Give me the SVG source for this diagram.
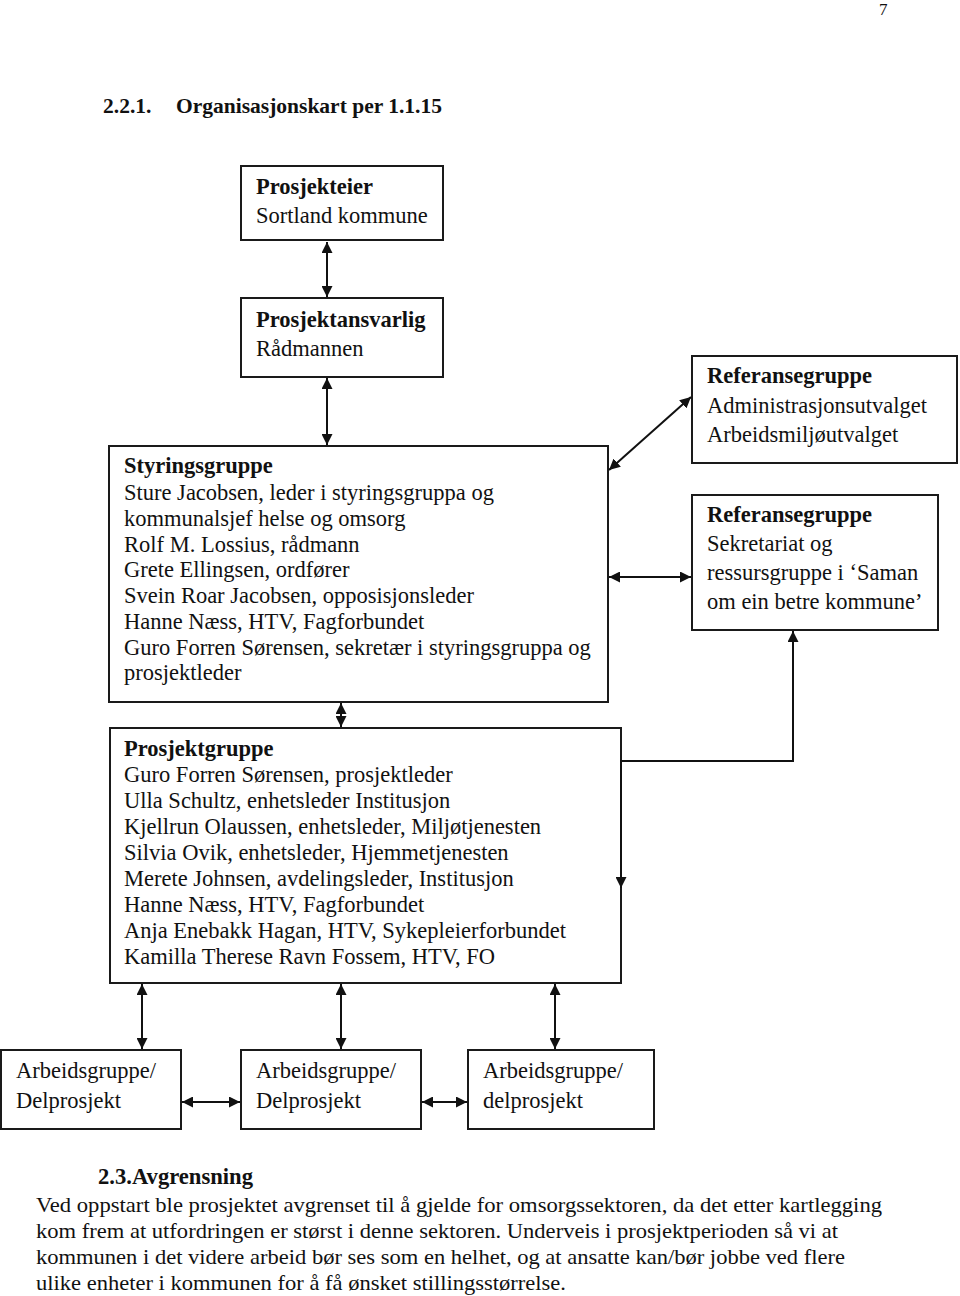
<svg xmlns="http://www.w3.org/2000/svg" width="960" height="1296" viewBox="0 0 960 1296">
<style>
.t{font-family:"Liberation Serif","Times New Roman",serif;font-size:22.5px;fill:#111}
.b{font-weight:bold}
.box{fill:#fff;stroke:#1a1a1a;stroke-width:2}
.c{fill:none;stroke:#111;stroke-width:2}
</style>
<defs>
<marker id="ah" viewBox="0 0 10 10" refX="10" refY="5" markerWidth="11" markerHeight="11" markerUnits="userSpaceOnUse" orient="auto-start-reverse">
<path d="M0,0 L10,5 L0,10 z" fill="#111"/>
</marker>
</defs>
<rect width="960" height="1296" fill="#fff"/>
<text class="t" x="879" y="15" style="font-size:17px">7</text>
<text class="t b" x="103" y="113" style="font-size:21.5px">2.2.1.</text>
<text class="t b" x="176" y="113" style="font-size:21.5px">Organisasjonskart per 1.1.15</text>

<g id="prosjekteier">
<rect class="box" x="241" y="166" width="202" height="74"/>
<text class="t b" x="256" y="194">Prosjekteier</text>
<text class="t" x="256" y="223">Sortland kommune</text>
</g>
<g id="prosjektansvarlig">
<rect class="box" x="241" y="298" width="202" height="79"/>
<text class="t b" x="256" y="327">Prosjektansvarlig</text>
<text class="t" x="256" y="356">Rådmannen</text>
</g>
<g id="styringsgruppe">
<rect class="box" x="109" y="446" width="499" height="256"/>
<text class="t b" x="124" y="473">Styringsgruppe</text>
<text class="t" x="124" y="500">Sture Jacobsen, leder i styringsgruppa og</text>
<text class="t" x="124" y="526">kommunalsjef helse og omsorg</text>
<text class="t" x="124" y="552">Rolf M. Lossius, rådmann</text>
<text class="t" x="124" y="577">Grete Ellingsen, ordfører</text>
<text class="t" x="124" y="603">Svein Roar Jacobsen, opposisjonsleder</text>
<text class="t" x="124" y="629">Hanne Næss, HTV, Fagforbundet</text>
<text class="t" x="124" y="655">Guro Forren Sørensen, sekretær i styringsgruppa og</text>
<text class="t" x="124" y="680">prosjektleder</text>
</g>
<g id="referansegruppe1">
<rect class="box" x="692" y="356" width="265" height="107"/>
<text class="t b" x="707" y="383">Referansegruppe</text>
<text class="t" x="707" y="413">Administrasjonsutvalget</text>
<text class="t" x="707" y="442">Arbeidsmiljøutvalget</text>
</g>
<g id="referansegruppe2">
<rect class="box" x="692" y="495" width="246" height="135"/>
<text class="t b" x="707" y="522">Referansegruppe</text>
<text class="t" x="707" y="551">Sekretariat og</text>
<text class="t" x="707" y="580">ressursgruppe i ‘Saman</text>
<text class="t" x="707" y="609">om ein betre kommune’</text>
</g>
<g id="prosjektgruppe">
<rect class="box" x="110" y="728" width="511" height="255"/>
<text class="t b" x="124" y="756">Prosjektgruppe</text>
<text class="t" x="124" y="782">Guro Forren Sørensen, prosjektleder</text>
<text class="t" x="124" y="808">Ulla Schultz, enhetsleder Institusjon</text>
<text class="t" x="124" y="834">Kjellrun Olaussen, enhetsleder, Miljøtjenesten</text>
<text class="t" x="124" y="860">Silvia Ovik, enhetsleder, Hjemmetjenesten</text>
<text class="t" x="124" y="886">Merete Johnsen, avdelingsleder, Institusjon</text>
<text class="t" x="124" y="912">Hanne Næss, HTV, Fagforbundet</text>
<text class="t" x="124" y="938">Anja Enebakk Hagan, HTV, Sykepleierforbundet</text>
<text class="t" x="124" y="964">Kamilla Therese Ravn Fossem, HTV, FO</text>
</g>
<g id="arbeidsgruppe1">
<rect class="box" x="1" y="1050" width="180" height="79"/>
<text class="t" x="16" y="1078">Arbeidsgruppe/</text>
<text class="t" x="16" y="1108">Delprosjekt</text>
</g>
<g id="arbeidsgruppe2">
<rect class="box" x="241" y="1050" width="180" height="79"/>
<text class="t" x="256" y="1078">Arbeidsgruppe/</text>
<text class="t" x="256" y="1108">Delprosjekt</text>
</g>
<g id="arbeidsgruppe3">
<rect class="box" x="468" y="1050" width="186" height="79"/>
<text class="t" x="483" y="1078">Arbeidsgruppe/</text>
<text class="t" x="483" y="1108">delprosjekt</text>
</g>

<g id="connectors">
<line class="c" x1="327" y1="242" x2="327" y2="297" marker-start="url(#ah)" marker-end="url(#ah)"/>
<line class="c" x1="327" y1="378" x2="327" y2="445" marker-start="url(#ah)" marker-end="url(#ah)"/>
<line class="c" x1="609" y1="470" x2="691" y2="397" marker-start="url(#ah)" marker-end="url(#ah)"/>
<line class="c" x1="609" y1="577" x2="691" y2="577" marker-start="url(#ah)" marker-end="url(#ah)"/>
<path class="c" d="M793 631 V761 H621 V888" marker-start="url(#ah)" marker-end="url(#ah)"/>
<line class="c" x1="341" y1="703" x2="341" y2="727" marker-start="url(#ah)" marker-end="url(#ah)"/>
<line class="c" x1="142" y1="984" x2="142" y2="1049" marker-start="url(#ah)" marker-end="url(#ah)"/>
<line class="c" x1="341" y1="984" x2="341" y2="1049" marker-start="url(#ah)" marker-end="url(#ah)"/>
<line class="c" x1="555" y1="984" x2="555" y2="1049" marker-start="url(#ah)" marker-end="url(#ah)"/>
<line class="c" x1="182" y1="1102" x2="240" y2="1102" marker-start="url(#ah)" marker-end="url(#ah)"/>
<line class="c" x1="422" y1="1102" x2="467" y2="1102" marker-start="url(#ah)" marker-end="url(#ah)"/>
</g>

<text class="t b" x="98" y="1184" style="font-size:23px" textLength="155" lengthAdjust="spacingAndGlyphs">2.3.Avgrensning</text>
<text class="t" x="36" y="1212" style="font-size:21px" textLength="846" lengthAdjust="spacingAndGlyphs">Ved oppstart ble prosjektet avgrenset til å gjelde for omsorgssektoren, da det etter kartlegging</text>
<text class="t" x="36" y="1238" style="font-size:21px" textLength="802" lengthAdjust="spacingAndGlyphs">kom frem at utfordringen er størst i denne sektoren. Underveis i prosjektperioden så vi at</text>
<text class="t" x="36" y="1264" style="font-size:21px" textLength="809" lengthAdjust="spacingAndGlyphs">kommunen i det videre arbeid bør ses som en helhet, og at ansatte kan/bør jobbe ved flere</text>
<text class="t" x="36" y="1290" style="font-size:21px" textLength="530" lengthAdjust="spacingAndGlyphs">ulike enheter i kommunen for å få ønsket stillingsstørrelse.</text>
</svg>
